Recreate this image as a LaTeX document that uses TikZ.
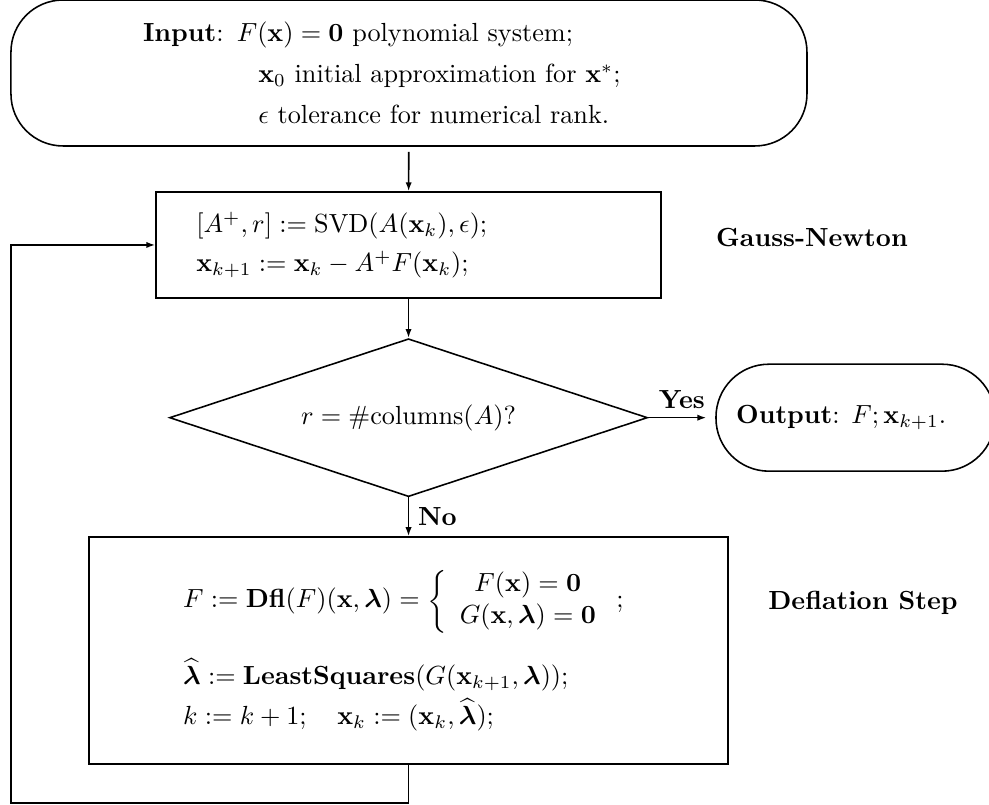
\documentclass[tikz,border=0pt]{standalone}
\usepackage{amsmath}
\usepackage{amsfonts}
\usepackage{amssymb}
\usepackage{tikz}
\usetikzlibrary{positioning,shapes.geometric,arrows.meta}

\begin{document}
\begin{tikzpicture}[line width=0.6pt, >={Latex[length=3.4pt,width=2.4pt]},
	procbox/.style={draw, align=left},
	termbox/.style={draw, align=left},
	decision/.style={draw, diamond, shape aspect=3, inner sep=0pt},
	sidelabel/.style={font=\bfseries}]
				\useasboundingbox (0,0) rectangle (13.267,10.798);
				%%%nodes
				%input
				\node[termbox, rounded corners=0.698cm, minimum width=10.678cm, minimum height=1.958cm, text width=203pt, inner xsep=50.4pt] at (5.486,9.819) (In){\textbf{Input}: $F(\mathbf{x})=\mathbf{0}$ polynomial system;\\[3.6pt]
					\hspace*{44pt}$\mathbf{x}_0$ initial approximation for $\mathbf{x}^*$;\\[3.6pt]
					\hspace*{44pt}$\epsilon$ tolerance for numerical rank.};
				%gauss-newton step
				\node[procbox, minimum width=6.774cm, minimum height=1.422cm, text width=162pt, inner xsep=15.3pt] at (5.48,7.512) (GN){$[A^+, r] := \mathrm{SVD}(A(\mathbf{x}_k),\epsilon)$;\\[2.9pt]
					$\mathbf{x}_{k+1} := \mathbf{x}_k - A^+F(\mathbf{x}_k)$;};
				\node[sidelabel] at (10.892,7.606) (GNl){Gauss-Newton};
				%rank test
				\node[decision, minimum width=6.412cm, minimum height=2.119cm] at (5.48,5.195) (Test){$r = \#\mathrm{columns}(A)$?\hspace{18pt}};
				%output
				\node[termbox, rounded corners=0.71cm, minimum width=3.743cm, minimum height=1.435cm] at (11.476,5.195) (Out){\textbf{Output}: $F; \mathbf{x}_{k+1}$.\hspace{11pt}};
				%deflation
				\node[procbox, minimum width=8.572cm, minimum height=3.045cm, text width=172pt, inner xsep=36pt] at (5.48,2.073) (Dfl){$F := \mathbf{Dfl}(F)(\mathbf{x},\boldsymbol{\lambda}) = \left\{\begin{array}{c} F(\mathbf{x})=\mathbf{0}\\ G(\mathbf{x},\boldsymbol{\lambda})=\mathbf{0}\end{array}\right.;$\\[9pt]
					$\widehat{\boldsymbol{\lambda}} := \mathbf{LeastSquares}(G(\mathbf{x}_{k+1},\boldsymbol{\lambda}))$;\\[1.7pt]
					$k := k+1;\quad \mathbf{x}_k := (\mathbf{x}_k,\widehat{\boldsymbol{\lambda}})$;};
				\node[sidelabel] at (11.576,2.710) (Dfll){Deflation Step};
				%loop corners
				\coordinate (Lb) at (5.48,0.027);
				\coordinate (Ll) at (0.148,0.027);
				%%%links
				\draw[->, shorten <=2pt] (In) -- (GN);
				\draw[->] (GN) -- (Test);
				\draw[->, shorten >=3.4pt] (Test.east) -- (Out.west)node[midway, above, sidelabel] {Yes};
				\draw[->] (Test.south) -- (Dfl.north)node[midway, right, sidelabel] {No};
				%back to gauss-newton
				\draw[->] (Dfl.south) -- (Lb) -- (Ll) |- (GN.west);
			\end{tikzpicture}
\end{document}
